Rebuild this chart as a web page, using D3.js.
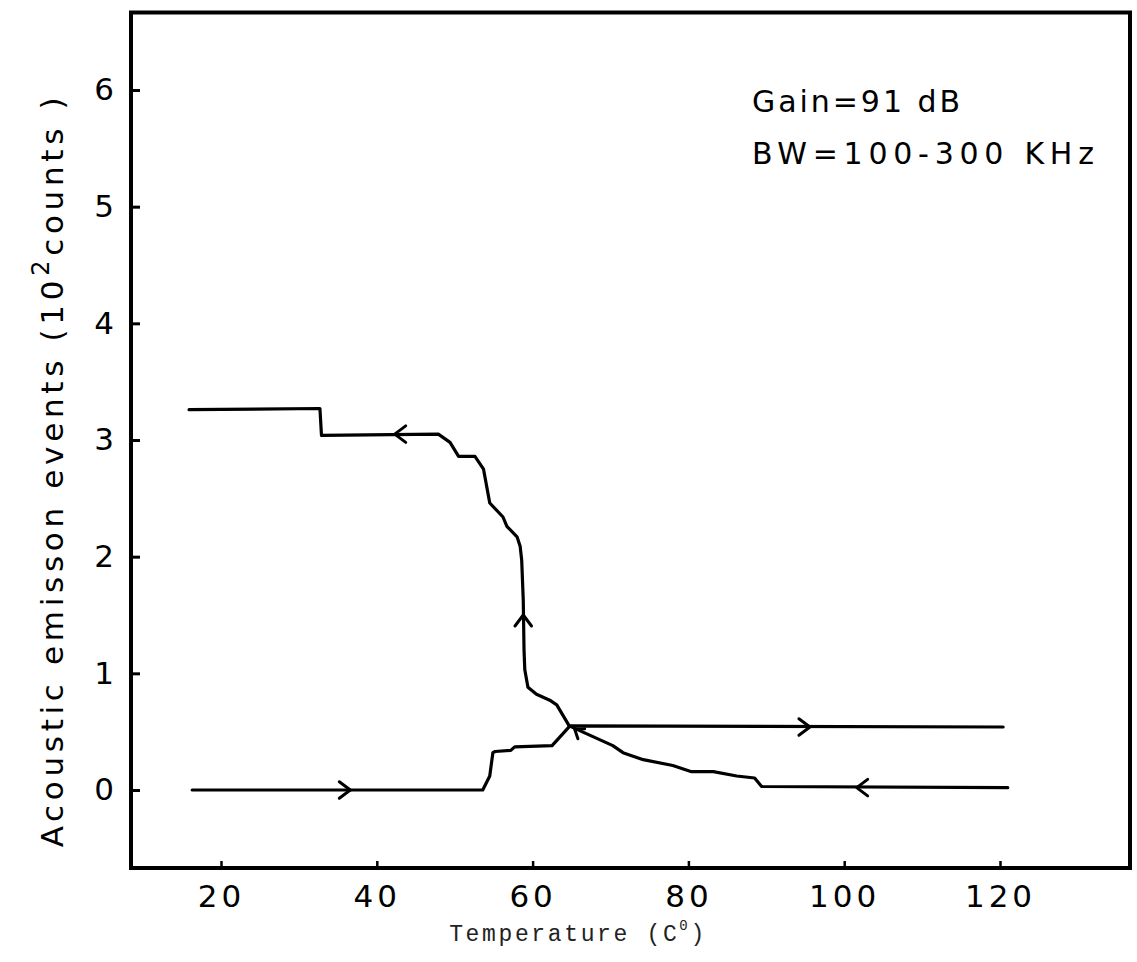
<!DOCTYPE html>
<html>
<head>
<meta charset="utf-8">
<script src="https://cdn.jsdelivr.net/npm/d3@7"></script>
<style>
  html, body { margin: 0; padding: 0; background: #fff; }
  svg { display: block; }
</style>
</head>
<body>
<svg id="chart" width="1137" height="962"></svg>
<script>
// ---------------- data ----------------
// Heating run (arrows pointing right)
const heatTemp  = [16.3, 53.6, 54.5, 54.9, 55.2, 57.2, 57.7, 62.5, 64.8, 120.4];
const heatCount = [0.00, 0.00, 0.12, 0.32, 0.33, 0.34, 0.37, 0.38, 0.55, 0.54];

// Cooling run (arrows pointing left / up)
const coolTemp  = [15.9, 32.7, 32.9, 47.9, 49.4, 50.5, 52.6, 53.7, 54.5, 56.2, 56.7, 58.0, 58.4, 58.6, 58.8, 58.9, 59.0, 59.4, 60.5, 62.2, 63.1, 64.7, 70.3, 71.6, 74.2, 78.0, 80.4, 83.2, 86.2, 88.5, 89.4, 121.0];
const coolCount = [3.26, 3.27, 3.04, 3.05, 2.98, 2.86, 2.86, 2.75, 2.46, 2.34, 2.26, 2.17, 2.09, 1.97, 1.63, 1.20, 1.03, 0.88, 0.82, 0.77, 0.73, 0.55, 0.38, 0.32, 0.26, 0.21, 0.157, 0.157, 0.12, 0.103, 0.03, 0.02];

// Direction arrows: from point -> to point (temperature, counts)
const arrowFrom = [[33.0, 0.00], [92.0, 0.54], [105.0, 0.02], [45.0, 3.05], [58.8, 1.20], [66.5, 0.47]];
const arrowTo   = [[36.6, 0.00], [95.6, 0.54], [101.6, 0.02], [42.3, 3.05], [58.8, 1.50], [65.4, 0.52]];

const xTicks = [20, 40, 60, 80, 100, 120];
const yTicks = [0, 1, 2, 3, 4, 5, 6];

const notes = ["Gain=91 dB", "BW=100-300 KHz"];

// ---------------- layout ----------------
const svg = d3.select("#chart");
const frame = {left: 131, right: 1130, top: 12.5, bottom: 868};

const x = d3.scaleLinear().domain([20, 120]).range([221, 1000]);
const y = d3.scaleLinear().domain([0, 6]).range([790, 90]);

const sans = "'DejaVu Sans', 'Liberation Sans', sans-serif";

// fit text width with letter-spacing
function fit(sel, target) {
  const node = sel.node();
  const n = node.getNumberOfChars();
  const len = node.getComputedTextLength();
  const ls = (target - len) / Math.max(1, n - 1);
  sel.attr("letter-spacing", ls.toFixed(2));
}

// ---------------- axes ----------------
const yAxis = d3.axisLeft(y).tickValues(yTicks).tickSize(-9).tickSizeOuter(0).tickPadding(17).tickFormat(d3.format("d"));
const gy = svg.append("g").attr("transform", `translate(${frame.left},0)`).call(yAxis);
gy.select(".domain").remove();
gy.selectAll(".tick line").attr("stroke", "#000").attr("stroke-width", 3);
gy.selectAll(".tick text").attr("font-family", sans).attr("font-size", 31).attr("fill", "#000")
  .attr("transform", function() { return null; });

const xAxis = d3.axisBottom(x).tickValues(xTicks).tickSize(-7).tickSizeOuter(0).tickPadding(17).tickFormat(d3.format("d"));
const gx = svg.append("g").attr("transform", `translate(0,${frame.bottom})`).call(xAxis);
gx.select(".domain").remove();
gx.selectAll(".tick line").attr("stroke", "#000").attr("stroke-width", 2.5);
gx.selectAll(".tick text").attr("font-family", sans).attr("font-size", 31).attr("fill", "#000")
  .attr("letter-spacing", 4);

// frame
svg.append("rect")
  .attr("x", frame.left).attr("y", frame.top)
  .attr("width", frame.right - frame.left).attr("height", frame.bottom - frame.top)
  .attr("fill", "none").attr("stroke", "#000").attr("stroke-width", 4);

// ---------------- curves ----------------
const line = d3.line().x(d => x(d[0])).y(d => y(d[1])).curve(d3.curveLinear);
const heat = heatTemp.map((t, i) => [t, heatCount[i]]);
const cool = coolTemp.map((t, i) => [t, coolCount[i]]);

svg.append("path").datum(heat).attr("d", line)
  .attr("fill", "none").attr("stroke", "#000").attr("stroke-width", 3.2)
  .attr("stroke-linejoin", "round").attr("stroke-linecap", "round");
svg.append("path").datum(cool).attr("d", line)
  .attr("fill", "none").attr("stroke", "#000").attr("stroke-width", 3.2)
  .attr("stroke-linejoin", "round").attr("stroke-linecap", "round");

// arrowheads (open chevrons)
arrowTo.forEach((p, i) => {
  const f = arrowFrom[i];
  const x1 = x(f[0]), y1 = y(f[1]), x2 = x(p[0]), y2 = y(p[1]);
  const ang = Math.atan2(y2 - y1, x2 - x1) * 180 / Math.PI;
  const s = i === 5 ? 8 : 11;
  svg.append("path")
    .attr("transform", `translate(${x2},${y2}) rotate(${ang})`)
    .attr("d", `M${-s},${-s * 0.75} L0,0 L${-s},${s * 0.75}`)
    .attr("fill", "none").attr("stroke", "#000").attr("stroke-width", 3)
    .attr("stroke-linejoin", "round").attr("stroke-linecap", "round");
});

// ---------------- labels ----------------
// y axis title
const yt = svg.append("text")
  .attr("transform", "translate(63,470) rotate(-90)")
  .attr("text-anchor", "middle")
  .attr("font-family", sans).attr("font-size", 31).attr("fill", "#000");
yt.append("tspan").text("Acoustic emisson events (10");
yt.append("tspan").attr("font-size", 24).attr("dy", -14).text("2");
yt.append("tspan").attr("dy", 14).text("counts )");
fit(yt, 750);

// x axis title
const xt = svg.append("text")
  .attr("x", 578).attr("y", 941)
  .attr("text-anchor", "middle")
  .attr("font-family", "'Liberation Mono', 'DejaVu Sans Mono', monospace")
  .attr("font-size", 23).attr("fill", "#222");
xt.append("tspan").text("Temperature (C");
xt.append("tspan").attr("font-size", 14).attr("dy", -11).text("0");
xt.append("tspan").attr("dy", 11).text(")");
fit(xt, 255);

// annotations
const g1 = svg.append("text").attr("x", 752).attr("y", 112)
  .attr("font-family", sans).attr("font-size", 30).attr("fill", "#000").text(notes[0]);
fit(g1, 208);
const g2 = svg.append("text").attr("x", 752).attr("y", 164)
  .attr("font-family", sans).attr("font-size", 30).attr("fill", "#000").text(notes[1]);
fit(g2, 342);
</script>
</body>
</html>
